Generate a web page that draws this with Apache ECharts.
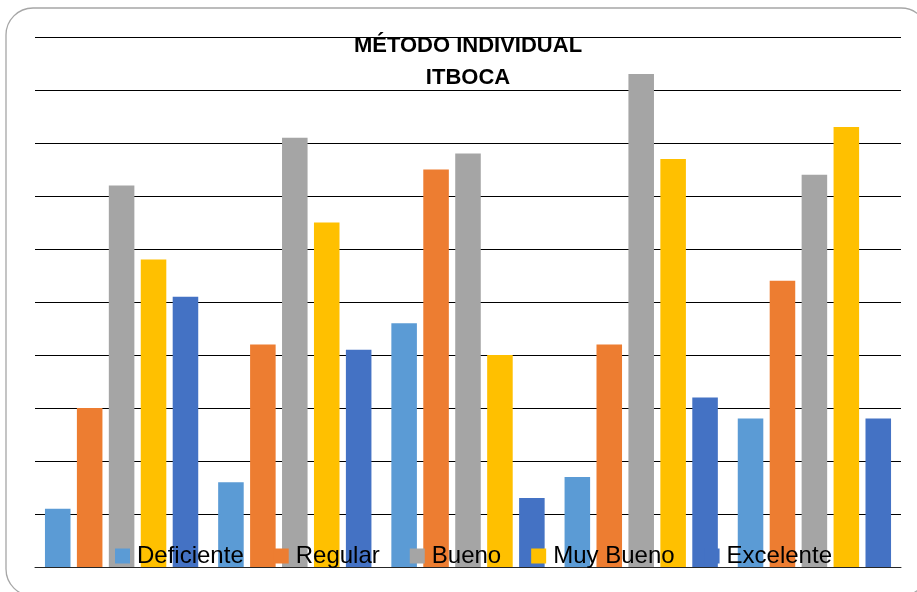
<!DOCTYPE html>
<html>
<head>
<meta charset="utf-8">
<script src="https://cdn.jsdelivr.net/npm/echarts@6/dist/echarts.min.js"></script>
<style>
  html, body { margin: 0; padding: 0; background: #ffffff; }
  #chart { width: 917px; height: 592px; }
</style>
</head>
<body>
<div id="chart"></div>
<script>
// Groups along the category axis (labels are not shown on the axis)
var categories = ['G1', 'G2', 'G3', 'G4', 'G5'];

// Series values per group
var deficiente = [1.1, 1.6, 4.6, 1.7, 2.8];
var regular    = [3.0, 4.2, 7.5, 4.2, 5.4];
var bueno      = [7.2, 8.1, 7.8, 9.3, 7.4];
var muyBueno   = [5.8, 6.5, 4.0, 7.7, 8.3];
var excelente  = [5.1, 4.1, 1.3, 3.2, 2.8];

var seriesNames = ['Deficiente', 'Regular', 'Bueno', 'Muy Bueno', 'Excelente'];
var seriesData  = [deficiente, regular, bueno, muyBueno, excelente];
var seriesColors = ['#5B9BD5', '#ED7D31', '#A5A5A5', '#FFC000', '#4472C4'];

var titleLines = ['MÉTODO INDIVIDUAL', 'ITBOCA'];

var chart = echarts.init(document.getElementById('chart'), null, { renderer: 'canvas' });

var series = seriesNames.map(function (name, i) {
  return {
    name: name,
    type: 'bar',
    data: seriesData[i],
    barGap: '25%',
    barCategoryGap: '11.5%',
    itemStyle: { color: seriesColors[i] },
    z: 2
  };
});

chart.setOption({
  animation: false,
  backgroundColor: '#ffffff',
  title: {
    text: titleLines.join('\n'),
    left: 468,
    textAlign: 'center',
    top: 30,
    padding: 0,
    textStyle: {
      fontFamily: 'Liberation Sans',
      fontWeight: 'bold',
      fontSize: 22,
      lineHeight: 32,
      color: '#000000'
    }
  },
  graphic: [{
    type: 'rect',
    shape: { x: 6, y: 8, width: 922, height: 588, r: 27 },
    style: { fill: 'none', stroke: '#a6a6a6', lineWidth: 1.3 },
    silent: true,
    z: 0
  }],
  legend: {
    data: seriesNames,
    left: 115,
    top: 544,
    padding: 0,
    itemWidth: 15,
    itemHeight: 15,
    itemGap: 30,
    icon: 'rect',
    textStyle: {
      fontFamily: 'Liberation Sans',
      fontSize: 24,
      color: '#000000',
      padding: [0, 0, 0, 2]
    }
  },
  grid: {
    left: 35,
    right: 16,
    top: 37,
    bottom: 25,
    containLabel: false
  },
  xAxis: {
    type: 'category',
    data: categories,
    axisLine: { show: true, lineStyle: { color: '#262626', width: 1 } },
    axisTick: { show: false },
    axisLabel: { show: false },
    splitLine: { show: false }
  },
  yAxis: {
    type: 'value',
    min: 0,
    max: 10,
    interval: 1,
    axisLine: { show: false },
    axisTick: { show: false },
    axisLabel: { show: false },
    splitLine: { show: true, lineStyle: { color: '#000000', width: 1 } }
  },
  series: series
});
</script>
</body>
</html>
